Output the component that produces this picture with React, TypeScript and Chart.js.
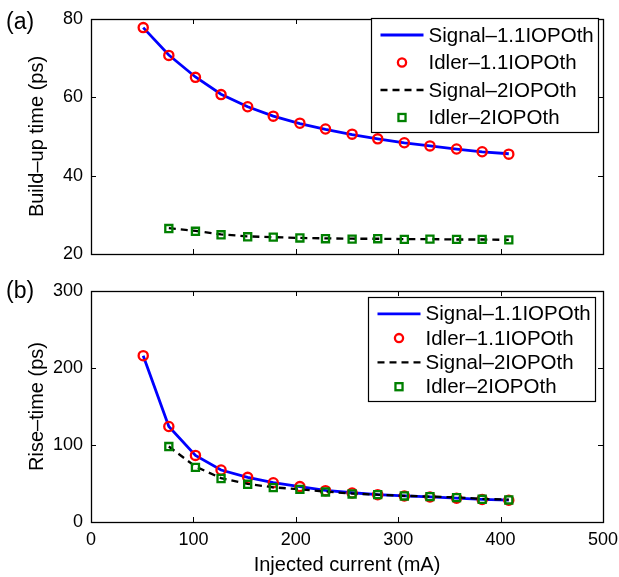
import { useEffect, useRef } from 'react';
import { Chart, registerables } from 'chart.js';

Chart.register(...registerables);

// ---------- data ----------
const currents11 = [51, 76, 102, 127, 153, 178, 204, 229, 255, 280, 306, 331, 357, 382, 408];
const currents2 = [76, 102, 127, 153, 178, 204, 229, 255, 280, 306, 331, 357, 382, 408];

const buildSignal11 = [77.8, 70.8, 65.2, 60.8, 57.6, 55.2, 53.3, 51.8, 50.5, 49.4, 48.4, 47.6, 46.8, 46.1, 45.6];
const buildIdler11 = [77.8, 70.7, 65.1, 60.7, 57.6, 55.2, 53.4, 51.9, 50.6, 49.4, 48.4, 47.6, 46.8, 46.1, 45.5];
const buildSignal2 = [26.6, 25.9, 25.0, 24.5, 24.3, 24.1, 24.0, 23.9, 23.9, 23.8, 23.8, 23.7, 23.7, 23.6];
const buildIdler2 = [26.5, 25.8, 24.9, 24.4, 24.3, 24.1, 23.9, 23.8, 23.9, 23.75, 23.8, 23.75, 23.75, 23.6];

const riseSignal11 = [216, 124, 86.5, 67.5, 58, 51, 46, 41, 38, 35.5, 34, 32.5, 31, 29.5, 28.5];
const riseIdler11 = [216, 124, 86.5, 67.5, 58, 51, 46, 40.7, 37.6, 35.5, 33.8, 32.5, 31, 29.3, 28.3];
const riseSignal2 = [98, 72, 57, 49.5, 45, 42.5, 39.5, 37, 35.5, 34, 33, 32, 30, 29];
const riseIdler2 = [98, 71, 56.5, 49, 44.6, 42.4, 39, 36.4, 35.5, 33.8, 32.9, 31.6, 29.5, 28.6];

const xTicks = [0, 100, 200, 300, 400, 500];
const buildTicks = [20, 40, 60, 80];
const riseTicks = [0, 100, 200, 300];

const seriesLabels = ['Signal–1.1IOPOth', 'Idler–1.1IOPOth', 'Signal–2IOPOth', 'Idler–2IOPOth'];
const panelLabels = ['(a)', '(b)'];
const yTitles = ['Build–up time (ps)', 'Rise–time (ps)'];
const xTitle = 'Injected current (mA)';

// ---------- styles ----------
const FONT = '"Liberation Sans", Arial, Helvetica, sans-serif';
const BLUE = '#0000ff';
const RED = '#ff0000';
const GREEN = '#008000';

Chart.defaults.font.family = FONT;
Chart.defaults.color = '#000';

function toPts(xs: number[], ys: number[]) {
  return xs.map((x, i) => ({ x, y: ys[i] }));
}

function makeDatasets(s11: number[], i11: number[], s2: number[], i2: number[]) {
  return [
    {
      label: seriesLabels[0],
      data: toPts(currents11, s11),
      showLine: true,
      borderColor: BLUE,
      borderWidth: 2.8,
      pointRadius: 0,
      order: 4,
      kind: 'solid',
    },
    {
      label: seriesLabels[1],
      data: toPts(currents11, i11),
      showLine: false,
      borderColor: RED,
      backgroundColor: 'rgba(0,0,0,0)',
      pointBorderColor: RED,
      pointBackgroundColor: 'rgba(0,0,0,0)',
      pointBorderWidth: 2.3,
      pointRadius: 4.6,
      pointStyle: 'circle',
      order: 3,
      kind: 'circle',
    },
    {
      label: seriesLabels[2],
      data: toPts(currents2, s2),
      showLine: true,
      borderColor: '#000',
      borderWidth: 2.3,
      borderDash: [7, 5],
      pointRadius: 0,
      order: 2,
      kind: 'dash',
    },
    {
      label: seriesLabels[3],
      data: toPts(currents2, i2),
      showLine: false,
      borderColor: GREEN,
      backgroundColor: 'rgba(0,0,0,0)',
      pointBorderColor: GREEN,
      pointBackgroundColor: 'rgba(0,0,0,0)',
      pointBorderWidth: 2.3,
      pointRadius: 5,
      pointStyle: 'rect',
      order: 1,
      kind: 'square',
    },
  ];
}

type LegendGeom = { dx: number; dy: number; w: number; h: number; row0: number; step: number };

function decorPlugin(panelLabel: string, labelY: number, lg: LegendGeom) {
  return {
    id: 'decor',
    afterDraw(chart: any) {
      const ctx = chart.ctx as CanvasRenderingContext2D;
      const a = chart.chartArea;
      const xs = chart.scales.x;
      const ys = chart.scales.y;
      ctx.save();
      // inward ticks on all four sides
      ctx.strokeStyle = '#000';
      ctx.lineWidth = 1;
      ctx.beginPath();
      const tl = 5;
      xs.ticks.forEach((t: any) => {
        const px = Math.round(xs.getPixelForValue(t.value)) + 0.5;
        ctx.moveTo(px, a.bottom);
        ctx.lineTo(px, a.bottom - tl);
        ctx.moveTo(px, a.top);
        ctx.lineTo(px, a.top + tl);
      });
      ys.ticks.forEach((t: any) => {
        const py = Math.round(ys.getPixelForValue(t.value)) + 0.5;
        ctx.moveTo(a.left, py);
        ctx.lineTo(a.left + tl, py);
        ctx.moveTo(a.right, py);
        ctx.lineTo(a.right - tl, py);
      });
      ctx.stroke();
      // frame
      ctx.lineWidth = 1.3;
      ctx.strokeRect(Math.round(a.left) + 0.5, Math.round(a.top) + 0.5, Math.round(a.right - a.left), Math.round(a.bottom - a.top));

      // panel label
      ctx.fillStyle = '#000';
      ctx.font = `23px ${FONT}`;
      ctx.textAlign = 'left';
      ctx.textBaseline = 'middle';
      ctx.fillText(panelLabel, 6, labelY);

      // legend
      const bx = Math.round(a.right + lg.dx) + 0.5;
      const by = Math.round(a.top + lg.dy) + 0.5;
      ctx.fillStyle = '#fff';
      ctx.fillRect(bx, by, lg.w, lg.h);
      ctx.lineWidth = 1.2;
      ctx.strokeStyle = '#000';
      ctx.strokeRect(bx, by, lg.w, lg.h);
      ctx.font = `20.5px ${FONT}`;
      chart.data.datasets.forEach((ds: any, i: number) => {
        const cy = by + lg.row0 + i * lg.step;
        const x0 = bx + 9;
        const x1 = bx + 52;
        const cx = bx + 30.5;
        ctx.save();
        if (ds.kind === 'solid' || ds.kind === 'dash') {
          ctx.strokeStyle = ds.borderColor;
          ctx.lineWidth = ds.borderWidth;
          ctx.setLineDash(ds.kind === 'dash' ? ds.borderDash : []);
          ctx.beginPath();
          ctx.moveTo(x0, cy);
          ctx.lineTo(x1, cy);
          ctx.stroke();
        } else if (ds.kind === 'circle') {
          ctx.strokeStyle = ds.pointBorderColor;
          ctx.lineWidth = ds.pointBorderWidth;
          ctx.beginPath();
          ctx.arc(cx, cy, ds.pointRadius - 0.5, 0, Math.PI * 2);
          ctx.stroke();
        } else {
          ctx.strokeStyle = ds.pointBorderColor;
          ctx.lineWidth = ds.pointBorderWidth;
          const s = ds.pointRadius * Math.SQRT1_2;
          ctx.strokeRect(cx - s, cy - s, 2 * s, 2 * s);
        }
        ctx.restore();
        ctx.fillStyle = '#000';
        ctx.textAlign = 'left';
        ctx.textBaseline = 'middle';
        ctx.fillText(ds.label, bx + 57, cy + 1);
      });
      ctx.restore();
    },
  };
}

function makeConfig(opts: {
  datasets: any[];
  yTicks: number[];
  yTitle: string;
  showXLabels: boolean;
  xHeight: number;
  padTop: number;
  panelLabel: string;
  labelY: number;
  legend: LegendGeom;
}) {
  const { datasets, yTicks, yTitle, showXLabels, xHeight, padTop, panelLabel, labelY, legend } = opts;
  return {
    type: 'scatter' as const,
    data: { datasets },
    options: {
      responsive: false,
      animation: false as const,
      devicePixelRatio: 1,
      layout: { padding: { left: 0, right: 16, top: padTop, bottom: 0 } },
      plugins: { legend: { display: false }, tooltip: { enabled: false } },
      elements: { line: { tension: 0 } },
      scales: {
        x: {
          type: 'linear',
          min: xTicks[0],
          max: xTicks[xTicks.length - 1],
          grid: { display: false, drawTicks: false },
          border: { display: false },
          afterBuildTicks: (s: any) => {
            s.ticks = xTicks.map((v) => ({ value: v }));
          },
          ticks: {
            display: showXLabels,
            padding: 7,
            font: { size: 18, family: FONT },
            color: '#000',
            maxRotation: 0,
            autoSkip: false,
          },
          title: {
            display: showXLabels,
            text: xTitle,
            font: { size: 20, family: FONT },
            color: '#000',
            padding: { top: 0, bottom: 0 },
          },
          afterFit: (s: any) => {
            s.height = xHeight;
            s.paddingLeft = 0;
            s.paddingRight = 0;
          },
        },
        y: {
          type: 'linear',
          min: yTicks[0],
          max: yTicks[yTicks.length - 1],
          grid: { display: false, drawTicks: false },
          border: { display: false },
          afterBuildTicks: (s: any) => {
            s.ticks = yTicks.map((v) => ({ value: v }));
          },
          ticks: {
            padding: 8,
            font: { size: 18, family: FONT },
            color: '#000',
            autoSkip: false,
          },
          title: {
            display: true,
            text: yTitle,
            font: { size: 20, family: FONT },
            color: '#000',
            padding: { top: 25, bottom: 0 },
          },
          afterFit: (s: any) => {
            s.width = 91;
            s.paddingTop = 0;
            s.paddingBottom = 0;
          },
        },
      },
    },
    plugins: [decorPlugin(panelLabel, labelY, legend)],
  };
}

function Panel(props: { config: any; height: number; top: number }) {
  const ref = useRef<HTMLCanvasElement | null>(null);
  useEffect(() => {
    if (!ref.current) return;
    const chart = new Chart(ref.current, props.config);
    return () => chart.destroy();
  }, []);
  return (
    <canvas
      ref={ref}
      width={619}
      height={props.height}
      style={{ position: 'absolute', left: 0, top: props.top, width: 619, height: props.height, display: 'block' }}
    />
  );
}

export default function App() {
  const topConfig = makeConfig({
    datasets: makeDatasets(buildSignal11, buildIdler11, buildSignal2, buildIdler2),
    yTicks: buildTicks,
    yTitle: yTitles[0],
    showXLabels: false,
    xHeight: 18,
    padTop: 19,
    panelLabel: panelLabels[0],
    labelY: 23,
    legend: { dx: -232, dy: -1, w: 227, h: 114, row0: 16.5, step: 27.5 },
  });
  const bottomConfig = makeConfig({
    datasets: makeDatasets(riseSignal11, riseIdler11, riseSignal2, riseIdler2),
    yTicks: riseTicks,
    yTitle: yTitles[1],
    showXLabels: true,
    xHeight: 55,
    padTop: 19,
    panelLabel: panelLabels[1],
    labelY: 20,
    legend: { dx: -235, dy: 6, w: 227, h: 104, row0: 16.3, step: 24.3 },
  });
  return (
    <div style={{ position: 'fixed', left: 0, top: 0, width: 619, height: 577, background: '#fff', overflow: 'hidden' }}>
      <Panel config={topConfig} height={272} top={0} />
      <Panel config={bottomConfig} height={305} top={272} />
    </div>
  );
}
